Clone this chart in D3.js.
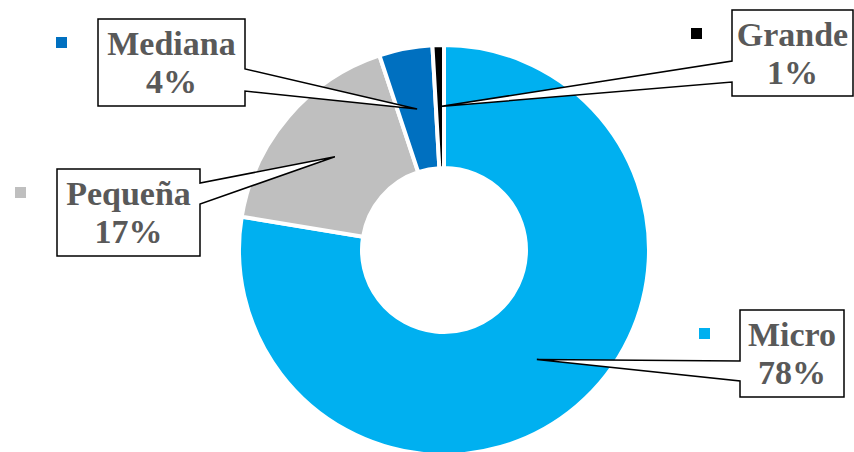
<!DOCTYPE html>
<html>
  <head>
    <meta charset="utf-8" />
    <script src="https://d3js.org/d3.v7.min.js"></script>
    <style>
      body { margin: 0; background: #ffffff; }
      .callout { fill: #ffffff; stroke: #000000; stroke-width: 1.5; }
      .lbl { font-family: "Liberation Serif", serif; font-weight: bold; font-size: 34px; fill: #595959; }
    </style>
  </head>
  <body>
    <svg width="854" height="452"></svg>

    <script type="text/javascript">

    // data
    var categories = ["Micro", "Pequeña", "Mediana", "Grande"];
    var values = [77.6, 17.3, 4.2, 0.9];
    var pctLabels = ["78%", "17%", "4%", "1%"];
    var colors = ["#00B0F0", "#BFBFBF", "#0070C0", "#000000"];

    // callout boxes: x, y, w, h, side of pointer, pointer base offsets, legend square
    var boxes = [
      { x: 740, y: 310, w: 104, h: 87, side: "left",  b1: 51, b2: 71, sq: [699, 328] },
      { x: 57,  y: 169, w: 143, h: 87, side: "right", b1: 14, b2: 35, sq: [15, 187] },
      { x: 98,  y: 19,  w: 147, h: 87, side: "right", b1: 50, b2: 72, sq: [56, 37] },
      { x: 732, y: 10,  w: 121, h: 86, side: "left",  b1: 51, b2: 72, sq: [691, 28] }
    ];

    var svg = d3.select("svg");
    var cx = 444, cy = 250;
    var rOuter = 205, rInner = 82;

    var pie = d3.pie().sort(null).value(function(d) { return d; });
    var arc = d3.arc().innerRadius(rInner).outerRadius(rOuter);
    var arcs = pie(values);

    var g = svg.append("g").attr("transform", "translate(" + cx + "," + cy + ")");

    g.selectAll(".slice")
      .data(arcs)
      .enter().append("path")
        .attr("class", "slice")
        .attr("d", arc)
        .attr("fill", function(d, i) { return colors[i]; })
        .attr("stroke", "#ffffff")
        .attr("stroke-width", 4);

    // callout shapes, pointer tip goes to the slice centroid
    function calloutPath(b, tip) {
      var x0 = b.x, x1 = b.x + b.w, y0 = b.y, y1 = b.y + b.h;
      var p = d3.path();
      if (b.side == "right") {
        p.moveTo(x0, y0); p.lineTo(x1, y0); p.lineTo(x1, y0 + b.b1);
        p.lineTo(tip[0], tip[1]);
        p.lineTo(x1, y0 + b.b2); p.lineTo(x1, y1); p.lineTo(x0, y1);
      } else {
        p.moveTo(x0, y0); p.lineTo(x1, y0); p.lineTo(x1, y1); p.lineTo(x0, y1);
        p.lineTo(x0, y0 + b.b2);
        p.lineTo(tip[0], tip[1]);
        p.lineTo(x0, y0 + b.b1);
      }
      p.closePath();
      return p.toString();
    }

    var labels = svg.selectAll(".label")
      .data(arcs)
      .enter().append("g")
        .attr("class", "label");

    labels.append("path")
      .attr("class", "callout")
      .attr("d", function(d, i) {
        var c = arc.centroid(d);
        return calloutPath(boxes[i], [c[0] + cx, c[1] + cy]);
      });

    labels.append("text")
      .attr("class", "lbl")
      .attr("text-anchor", "middle")
      .attr("x", function(d, i) { return boxes[i].x + boxes[i].w / 2; })
      .attr("y", function(d, i) { return boxes[i].y + 36; })
      .text(function(d, i) { return categories[i]; });

    labels.append("text")
      .attr("class", "lbl")
      .attr("text-anchor", "middle")
      .attr("x", function(d, i) { return boxes[i].x + boxes[i].w / 2; })
      .attr("y", function(d, i) { return boxes[i].y + 74; })
      .text(function(d, i) { return pctLabels[i]; });

    // legend squares
    labels.append("rect")
      .attr("x", function(d, i) { return boxes[i].sq[0]; })
      .attr("y", function(d, i) { return boxes[i].sq[1]; })
      .attr("width", 11)
      .attr("height", 11)
      .attr("fill", function(d, i) { return colors[i]; });

    </script>
  </body>
</html>
